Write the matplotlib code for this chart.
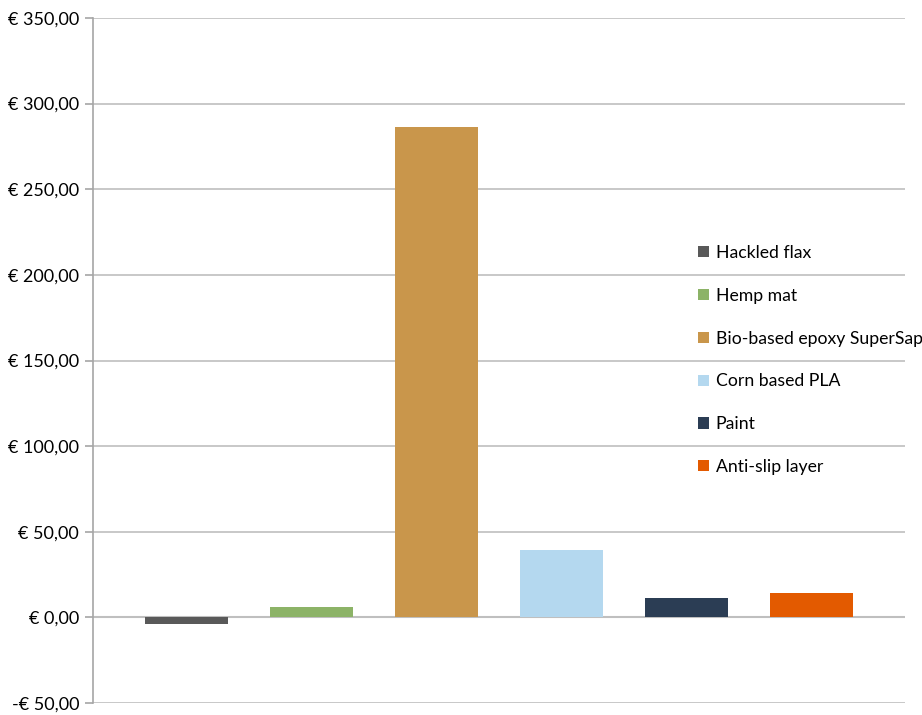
import matplotlib
matplotlib.use('Agg')
import matplotlib.pyplot as plt
from matplotlib.ticker import FuncFormatter

# data
materials = ['Hackled flax', 'Hemp mat', 'Bio-based epoxy SuperSap',
             'Corn based PLA', 'Paint', 'Anti-slip layer']
costs = [-3.8, 6.0, 286.2, 39.4, 11.2, 14.1]
colors = ['#595959', '#8cb367', '#c9964b', '#b4d8ef', '#2b3d54', '#e35a00']
y_ticks = [-50, 0, 50, 100, 150, 200, 250, 300, 350]

plt.rcParams['font.family'] = ['Lato', 'DejaVu Sans']


def euro(v, pos):
    s = '€ {:.2f}'.format(abs(v)).replace('.', ',')
    return '-' + s if v < 0 else s


fig = plt.figure(figsize=(9.22, 7.15), dpi=100)
ax = fig.add_axes([93 / 922, 1 - 703 / 715, (905 - 93) / 922, (703 - 18) / 715])

grid_color = '#bfbfbf'
for i, (name, val, c) in enumerate(zip(materials, costs, colors)):
    ax.bar(i, val, width=0.664, color=c, label=name, zorder=3)

ax.set_xlim(-0.75, 5.75)
ax.set_ylim(-50, 350)
ax.set_yticks(y_ticks)
ax.yaxis.set_major_formatter(FuncFormatter(euro))
ax.yaxis.grid(True, color=grid_color, linewidth=1.2, zorder=0)
ax.axhline(0, color=grid_color, linewidth=1.5, zorder=2)
ax.set_xticks([])

for s in ['top', 'right', 'bottom']:
    ax.spines[s].set_visible(False)
ax.spines['left'].set_color('#a6a6a6')
ax.spines['left'].set_linewidth(1.2)
ax.tick_params(axis='y', length=6, width=1.2, color='#a6a6a6',
               labelsize=13, pad=4, labelcolor='#000000')

ax.legend(loc='upper left', bbox_to_anchor=(691 / 922, 1 - 238 / 715),
          bbox_transform=fig.transFigure, frameon=False, fontsize=12.7,
          handlelength=0.6, handleheight=0.6, handletextpad=0.4,
          labelspacing=1.52, borderaxespad=0)

plt.savefig('out.png', dpi=100)
